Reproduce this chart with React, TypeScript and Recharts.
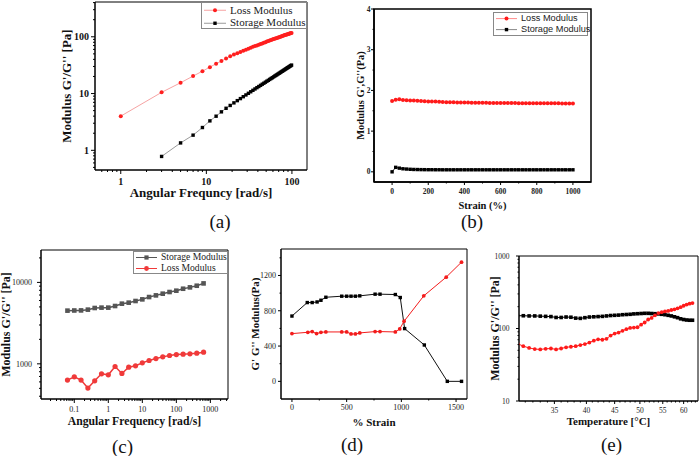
import React from 'react';
import { LineChart, Line, XAxis, YAxis, ReferenceArea } from 'recharts';

// ---- (a) frequency sweep ----
const freqA = [1, 3, 5, 7, 9, 11, 13, 15, 17, 19, 21, 23, 25, 27, 29, 31, 33, 35, 37, 39, 41, 43, 45, 47, 49, 51, 53, 55, 57, 59, 61, 63, 65, 67, 69, 71, 73, 75, 77, 79, 81, 83, 85, 87, 89, 91, 93, 95, 97, 99];
const lossA = [4.0, 10.5, 15.5, 20.3, 24.8, 29.2, 33.5, 37.3, 41.5, 45.5, 48.5, 51.5, 54, 56.5, 59, 61.5, 64, 66.5, 68.5, 70.5, 72.5, 74.5, 76.5, 78.5, 80.5, 82.5, 84, 86, 87.5, 89.5, 91, 92.5, 94, 95.5, 97, 98.5, 100, 101.5, 103, 104.5, 106, 107, 108.5, 110, 111, 112.5, 113.5, 115, 116, 117];
const storageA = [null, 0.78, 1.35, 1.85, 2.52, 3.3, 3.99, 4.76, 5.5, 6.17, 6.85, 7.5, 8.15, 8.8, 9.45, 10.1, 10.75, 11.4, 12.05, 12.7, 13.3, 13.95, 14.6, 15.2, 15.85, 16.5, 17.1, 17.75, 18.4, 19, 19.65, 20.3, 20.9, 21.55, 22.2, 22.8, 23.45, 24.1, 24.7, 25.35, 26, 26.6, 27.25, 27.9, 28.5, 29.15, 29.8, 30.4, 31.05, 31.7];
const xMajorA = [1, 10, 100];
const xMinorA = [0.6, 0.7, 0.8, 0.9, 2, 3, 4, 5, 6, 7, 8, 9, 20, 30, 40, 50, 60, 70, 80, 90];
const yMajorA = [1, 10, 100];
const yMinorA = [0.5, 0.6, 0.7, 0.8, 0.9, 2, 3, 4, 5, 6, 7, 8, 9, 20, 30, 40, 50, 60, 70, 80, 90, 200, 300, 400];

// ---- (b) strain sweep ----
const strainB = [0, 20, 40, 60, 80, 100, 120, 140, 160, 180, 200, 220, 240, 260, 280, 300, 320, 340, 360, 380, 400, 420, 440, 460, 480, 500, 520, 540, 560, 580, 600, 620, 640, 660, 680, 700, 720, 740, 760, 780, 800, 820, 840, 860, 880, 900, 920, 940, 960, 980, 1000];
const lossB = [1.74, 1.77, 1.78, 1.765, 1.76, 1.755, 1.75, 1.745, 1.74, 1.735, 1.73, 1.728, 1.725, 1.72, 1.715, 1.712, 1.71, 1.708, 1.705, 1.703, 1.7, 1.7, 1.698, 1.697, 1.696, 1.695, 1.694, 1.693, 1.692, 1.691, 1.69, 1.69, 1.689, 1.688, 1.688, 1.687, 1.686, 1.686, 1.685, 1.685, 1.684, 1.684, 1.683, 1.683, 1.682, 1.682, 1.682, 1.681, 1.681, 1.68, 1.68];
const storageB = [0, 0.11, 0.09, 0.075, 0.068, 0.062, 0.058, 0.056, 0.054, 0.053, 0.052, 0.052, 0.051, 0.051, 0.05, 0.05, 0.05, 0.05, 0.05, 0.05, 0.05, 0.05, 0.05, 0.05, 0.05, 0.05, 0.05, 0.05, 0.05, 0.05, 0.05, 0.05, 0.05, 0.05, 0.05, 0.05, 0.05, 0.05, 0.05, 0.05, 0.05, 0.05, 0.05, 0.05, 0.05, 0.05, 0.05, 0.05, 0.05, 0.05, 0.05];
const xMajorB = [0, 200, 400, 600, 800, 1000];
const xMinorB = [100, 300, 500, 700, 900];
const yMajorB = [0, 1, 2, 3, 4];
const yMinorB = [0.5, 1.5, 2.5, 3.5];

// ---- (c) frequency sweep ----
const freqC = [0.063, 0.1, 0.158, 0.251, 0.398, 0.631, 1, 1.58, 2.51, 3.98, 6.31, 10, 15.8, 25.1, 39.8, 63.1, 100, 158, 251, 398, 631];
const storageC = [4500, 4520, 4530, 4630, 4850, 4900, 4900, 5130, 5480, 5640, 5910, 6190, 6610, 6930, 7270, 7620, 7910, 8360, 8690, 9100, 9720];
const lossC = [631, 693, 631, 504, 619, 755, 733, 927, 762, 910, 946, 1028, 1099, 1162, 1218, 1265, 1301, 1314, 1326, 1351, 1390];
const xMajorC = [0.1, 1, 10, 100, 1000];
const xMinorC = [0.02, 0.03, 0.04, 0.05, 0.06, 0.07, 0.08, 0.09, 0.2, 0.3, 0.4, 0.5, 0.6, 0.7, 0.8, 0.9, 2, 3, 4, 5, 6, 7, 8, 9, 20, 30, 40, 50, 60, 70, 80, 90, 200, 300, 400, 500, 600, 700, 800, 900, 2000, 3000];
const yMajorC = [1000, 10000];
const yMinorC = [400, 500, 600, 700, 800, 900, 2000, 3000, 4000, 5000, 6000, 7000, 8000, 9000, 20000];

// ---- (d) strain sweep ----
const strainDStorage = [0, 140, 185, 230, 265, 310, 455, 500, 540, 580, 620, 760, 805, 945, 990, 1030, 1210, 1420, 1550];
const storageD = [740, 893, 893, 900, 919, 953, 965, 965, 965, 965, 969, 988, 988, 984, 950, 598, 412, 0, 0];
const strainDLoss = [0, 145, 185, 225, 265, 310, 455, 500, 540, 580, 620, 760, 805, 945, 985, 1025, 1205, 1410, 1550];
const lossD = [541, 556, 564, 541, 556, 560, 560, 560, 537, 537, 549, 564, 564, 560, 594, 681, 969, 1181, 1351];
const xMajorD = [0, 500, 1000, 1500];
const xMinorD = [250, 750, 1250];
const yMajorD = [0, 400, 800, 1200];
const yMinorD = [200, 600, 1000, 1400];

// ---- (e) temperature sweep ----
const tempE = [30, 30.75, 31.5, 32.25, 33, 33.75, 34.5, 35.25, 36, 36.75, 37.5, 38.25, 39, 39.75, 40.5, 41.25, 42, 42.75, 43.5, 44.25, 45, 45.75, 46.5, 47.25, 48, 48.75, 49.5, 50.25, 51, 51.75, 52.5, 53.25, 54, 54.75, 55.5, 56.25, 57, 57.75, 58.5, 59.25, 60, 60.75, 61.5, 62.25];
const lossE = [62, 57, 54, 52, 51.5, 52.5, 53, 51.5, 53, 55, 56, 57, 59, 61, 64, 68, 71, 70, 72, 80, 85, 88, 93, 98, 102, 103, 104, 113, 121, 133, 140, 152, 163, 168, 172, 175, 180, 184, 190, 197, 206, 214, 220, 224];
const storageE = [150, 150, 149, 149, 148, 147, 146, 142, 142, 144, 143, 139, 138, 141, 144, 145, 146, 147, 149, 151, 152, 153, 155, 156, 157, 159, 160, 161, 162, 162, 161, 160, 159, 157, 155, 152, 149, 145, 141, 136, 133, 131, 130, 130];
const xMajorE = [35, 40, 45, 50, 55, 60];
const xMinorE = [31, 32, 33, 34, 36, 37, 38, 39, 41, 42, 43, 44, 46, 47, 48, 49, 51, 52, 53, 54, 56, 57, 58, 59, 61, 62, 63];
const yMajorE = [10, 100, 1000];
const yMinorE = [20, 30, 40, 50, 60, 70, 80, 90, 200, 300, 400, 500, 600, 700, 800, 900];

const SERIF = '"Liberation Serif", "Times New Roman", serif';
const SANS = '"Liberation Sans", Arial, sans-serif';

const dataA = freqA.map((f, i) => ({ f, loss: lossA[i], storage: storageA[i] }));
const dataB = strainB.map((s, i) => ({ s, loss: lossB[i], storage: storageB[i] }));
const dataC = freqC.map((f, i) => ({ f, loss: lossC[i], storage: storageC[i] }));
const dataDStorage = strainDStorage.map((s, i) => ({ s, v: storageD[i] }));
const dataDLoss = strainDLoss.map((s, i) => ({ s, v: lossD[i] }));
const dataE = tempE.map((t, i) => ({ t, loss: lossE[i], storage: storageE[i] }));

const circleDot = (fill: string, r: number) => (p: any) =>
  p.cx == null || p.cy == null ? <g key={p.index} /> : <circle key={p.index} cx={p.cx} cy={p.cy} r={r} fill={fill} />;
const squareDot = (fill: string, s: number) => (p: any) =>
  p.cx == null || p.cy == null ? (
    <g key={p.index} />
  ) : (
    <rect key={p.index} x={p.cx - s / 2} y={p.cy - s / 2} width={s} height={s} fill={fill} />
  );

const fmtNum = (v: number) => String(v);

const bottomTick = (majors: number[], font: React.CSSProperties, len: number, gap: number) => (p: any) => {
  const v = p.payload.value;
  const major = majors.includes(v);
  const l = major ? len : len / 2;
  return (
    <g>
      <line x1={p.x} x2={p.x} y1={p.y} y2={p.y + l} stroke="#000" />
      {major && (
        <text x={p.x} y={p.y + gap} dy="0.35em" textAnchor="middle" style={font}>
          {fmtNum(v)}
        </text>
      )}
    </g>
  );
};

const leftTick = (majors: number[], font: React.CSSProperties, len: number, gap: number) => (p: any) => {
  const v = p.payload.value;
  const major = majors.includes(v);
  const l = major ? len : len / 2;
  return (
    <g>
      <line x1={p.x} x2={p.x - l} y1={p.y} y2={p.y} stroke="#000" />
      {major && (
        <text x={p.x - gap} y={p.y} dy="0.35em" textAnchor="end" style={font}>
          {fmtNum(v)}
        </text>
      )}
    </g>
  );
};

type LegendItem = { label: string; color: string; line: string; shape: 'circle' | 'square'; size: number };

const LegendBox = ({ items, box, font, sample, rowH }: { items: LegendItem[]; box: React.CSSProperties; font: React.CSSProperties; sample: number; rowH: number }) => (
  <div style={{ position: 'absolute', border: '1px solid #888', background: '#fff', boxSizing: 'border-box', ...box }}>
    {items.map((it) => (
      <div key={it.label} style={{ display: 'flex', alignItems: 'center', height: rowH }}>
        <svg width={sample + 6} height={rowH} style={{ flex: 'none' }}>
          <line x1={2} x2={sample + 2} y1={rowH / 2} y2={rowH / 2} stroke={it.line} strokeWidth={1} />
          {it.shape === 'circle' ? (
            <circle cx={sample / 2 + 2} cy={rowH / 2} r={it.size / 2} fill={it.color} />
          ) : (
            <rect x={sample / 2 + 2 - it.size / 2} y={rowH / 2 - it.size / 2} width={it.size} height={it.size} fill={it.color} />
          )}
        </svg>
        <span style={{ whiteSpace: 'nowrap', lineHeight: 1, ...font }}>{it.label}</span>
      </div>
    ))}
  </div>
);

const captionStyle = (left: number, top: number): React.CSSProperties => ({
  position: 'absolute',
  left: left - 20,
  top: top - 11,
  width: 40,
  textAlign: 'center',
  fontFamily: SERIF,
  fontSize: 19,
  lineHeight: '22px',
  color: '#111',
});

const axisLabel = (size: number): React.CSSProperties => ({ fontFamily: SERIF, fontWeight: 700, fontSize: size, fill: '#111' });

export default function App() {
  const tickA = { fontFamily: SERIF, fontWeight: 700, fontSize: 10, fill: '#111' };
  const tickB = { fontFamily: SERIF, fontWeight: 700, fontSize: 7.5, fill: '#222' };
  const tickC = { fontFamily: SERIF, fontSize: 8, fill: '#222' };
  const tickE = { fontFamily: SERIF, fontSize: 7.5, fill: '#222' };

  return (
    <div style={{ position: 'absolute', left: 0, top: 0, width: 700, height: 456, background: '#fff', overflow: 'hidden' }}>
      {/* (a) */}
      <div style={{ position: 'absolute', left: 0, top: 0 }}>
        <LineChart width={330} height={210} data={dataA} margin={{ top: 2, right: 23, bottom: 0, left: 0 }}>
          <XAxis
            dataKey="f"
            type="number"
            scale="log"
            domain={[0.5, 150]}
            allowDataOverflow
            ticks={[...xMajorA, ...xMinorA]}
            interval={0}
            tickSize={0}
            tickMargin={0}
            tickLine={false}
            height={40}
            axisLine={{ stroke: '#000' }}
            tick={bottomTick(xMajorA, tickA, 4, 11)}
            label={{ value: 'Angular Frequncy [rad/s]', position: 'insideBottom', offset: 13, style: axisLabel(13) }}
          />
          <YAxis
            type="number"
            scale="log"
            domain={[0.45, 410]}
            allowDataOverflow
            ticks={[...yMajorA, ...yMinorA]}
            interval={0}
            tickSize={0}
            tickMargin={0}
            tickLine={false}
            width={95}
            axisLine={{ stroke: '#000' }}
            tick={leftTick(yMajorA, tickA, 4, 6)}
            label={{ value: "Modulus G'/G'' [Pa]", angle: -90, position: 'insideLeft', offset: 66, style: { ...axisLabel(13), textAnchor: 'middle' } }}
          />
          <ReferenceArea x1={0.5} x2={150} y1={0.45} y2={410} fill="none" stroke="#000" strokeWidth={1} />
          <Line dataKey="loss" type="linear" stroke="#f6a3a3" strokeWidth={1} dot={circleDot('#ff1f1f', 2)} isAnimationActive={false} />
          <Line dataKey="storage" type="linear" stroke="#9a9a9a" strokeWidth={1} dot={squareDot('#000', 3.4)} isAnimationActive={false} />
        </LineChart>
        <LegendBox
          box={{ left: 201, top: 2, width: 106, height: 27, paddingTop: 1 }}
          rowH={12.5}
          sample={22}
          font={{ fontFamily: SERIF, fontSize: 11, color: '#222' }}
          items={[
            { label: 'Loss Modulus', color: '#ff1f1f', line: '#f6a3a3', shape: 'circle', size: 4 },
            { label: 'Storage Modulus', color: '#000', line: '#9a9a9a', shape: 'square', size: 3.4 },
          ]}
        />
      </div>
      <div style={captionStyle(220, 222)}>(a)</div>

      {/* (b) */}
      <div style={{ position: 'absolute', left: 340, top: 0 }}>
        <LineChart width={270} height={215} data={dataB} margin={{ top: 9, right: 19, bottom: 0, left: 0 }}>
          <XAxis
            dataKey="s"
            type="number"
            domain={[-100, 1100]}
            allowDataOverflow
            ticks={[...xMajorB, ...xMinorB]}
            interval={0}
            tickSize={0}
            tickMargin={0}
            tickLine={false}
            height={33}
            axisLine={{ stroke: '#000', strokeWidth: 1.5 }}
            tick={bottomTick(xMajorB, tickB, 3, 9)}
            label={{ value: 'Strain (%)', position: 'insideBottom', offset: 6, style: axisLabel(10.5) }}
          />
          <YAxis
            type="number"
            domain={[-0.25, 4]}
            allowDataOverflow
            ticks={[...yMajorB, ...yMinorB]}
            interval={0}
            tickSize={0}
            tickMargin={0}
            tickLine={false}
            width={34}
            axisLine={{ stroke: '#000', strokeWidth: 1.5 }}
            tick={leftTick(yMajorB, tickB, 3, 3.5)}
            label={{ value: "Modulus G',G''(Pa)", angle: -90, position: 'insideLeft', offset: 20, style: { ...axisLabel(10.5), textAnchor: 'middle' } }}
          />
          <ReferenceArea x1={-100} x2={1100} y1={-0.25} y2={4} fill="none" stroke="#000" strokeWidth={1.5} />
          <Line dataKey="loss" type="linear" stroke="#ff4a4a" strokeWidth={1} dot={circleDot('#ff1a1a', 2)} isAnimationActive={false} />
          <Line dataKey="storage" type="linear" stroke="#222" strokeWidth={1} dot={squareDot('#000', 3.4)} isAnimationActive={false} />
        </LineChart>
        <LegendBox
          box={{ left: 153, top: 12, width: 95, height: 24 }}
          rowH={11.2}
          sample={21}
          font={{ fontFamily: SANS, fontSize: 9.2, color: '#222' }}
          items={[
            { label: 'Loss Modulus', color: '#ff1a1a', line: '#ff8a8a', shape: 'circle', size: 4 },
            { label: 'Storage Modulus', color: '#000', line: '#888', shape: 'square', size: 3.4 },
          ]}
        />
      </div>
      <div style={captionStyle(472, 222)}>(b)</div>

      {/* (c) */}
      <div style={{ position: 'absolute', left: 0, top: 240 }}>
        <LineChart width={240} height={190} data={dataC} margin={{ top: 10, right: 12, bottom: 0, left: 0 }}>
          <XAxis
            dataKey="f"
            type="number"
            scale="log"
            domain={[0.0105, 3300]}
            allowDataOverflow
            ticks={[...xMajorC, ...xMinorC]}
            interval={0}
            tickSize={0}
            tickMargin={0}
            tickLine={false}
            height={31}
            axisLine={{ stroke: '#000' }}
            tick={bottomTick(xMajorC, tickC, 4, 10)}
            label={{ value: 'Angular Frequency [rad/s]', position: 'insideBottom', offset: 5, style: axisLabel(11.7) }}
          />
          <YAxis
            type="number"
            scale="log"
            domain={[370, 25000]}
            allowDataOverflow
            ticks={[...yMajorC, ...yMinorC]}
            interval={0}
            tickSize={0}
            tickMargin={0}
            tickLine={false}
            width={41}
            axisLine={{ stroke: '#000' }}
            tick={leftTick(yMajorC, tickC, 4, 9)}
            label={{ value: "Modulus G'/G'' [Pa]", angle: -90, position: 'insideLeft', offset: 6, style: { ...axisLabel(12), textAnchor: 'middle' } }}
          />
          <ReferenceArea x1={0.0105} x2={3300} y1={370} y2={25000} fill="none" stroke="#000" strokeWidth={1} />
          <Line dataKey="storage" type="linear" stroke="#555" strokeWidth={1.5} dot={squareDot('#555', 4.6)} isAnimationActive={false} />
          <Line dataKey="loss" type="linear" stroke="#f03a3a" strokeWidth={1.5} dot={circleDot('#f03a3a', 2.6)} isAnimationActive={false} />
        </LineChart>
        <LegendBox
          box={{ left: 133, top: 10.5, width: 95, height: 23 }}
          rowH={11}
          sample={21}
          font={{ fontFamily: SERIF, fontSize: 9.6, color: '#222' }}
          items={[
            { label: 'Storage Modulus', color: '#555', line: '#555', shape: 'square', size: 4.2 },
            { label: 'Loss Modulus', color: '#f03a3a', line: '#f03a3a', shape: 'circle', size: 4.8 },
          ]}
        />
      </div>
      <div style={captionStyle(122.5, 447)}>(c)</div>

      {/* (d) */}
      <div style={{ position: 'absolute', left: 230, top: 240 }}>
        <LineChart width={245} height={190} margin={{ top: 9, right: 8, bottom: 0, left: 0 }}>
          <XAxis
            dataKey="s"
            type="number"
            domain={[-100, 1600]}
            allowDataOverflow
            ticks={[...xMajorD, ...xMinorD]}
            interval={0}
            tickSize={0}
            tickMargin={0}
            tickLine={false}
            height={31}
            axisLine={{ stroke: '#000' }}
            tick={bottomTick(xMajorD, tickC, 3, 8)}
            label={{ value: '% Strain', position: 'insideBottom', offset: 4.5, style: axisLabel(11) }}
          />
          <YAxis
            type="number"
            domain={[-200, 1500]}
            allowDataOverflow
            ticks={[...yMajorD, ...yMinorD]}
            interval={0}
            tickSize={0}
            tickMargin={0}
            tickLine={false}
            width={51}
            axisLine={{ stroke: '#000' }}
            tick={leftTick(yMajorD, tickC, 3, 5)}
            label={{ value: "G' G'' Modulus(Pa)", angle: -90, position: 'insideLeft', offset: 25, style: { ...axisLabel(11), textAnchor: 'middle' } }}
          />
          <ReferenceArea x1={-100} x2={1600} y1={-200} y2={1500} fill="none" stroke="#000" strokeWidth={1} />
          <Line data={dataDStorage} dataKey="v" type="linear" stroke="#111" strokeWidth={1} dot={squareDot('#000', 3.4)} isAnimationActive={false} />
          <Line data={dataDLoss} dataKey="v" type="linear" stroke="#f31c1c" strokeWidth={1} dot={circleDot('#f31c1c', 1.9)} isAnimationActive={false} />
        </LineChart>
      </div>
      <div style={captionStyle(352, 445)}>(d)</div>

      {/* (e) */}
      <div style={{ position: 'absolute', left: 460, top: 240 }}>
        <LineChart width={240} height={190} data={dataE} margin={{ top: 16, right: 2, bottom: 0, left: 0 }}>
          <XAxis
            dataKey="t"
            type="number"
            scale="log"
            domain={[30.2, 63.7]}
            allowDataOverflow
            ticks={[...xMajorE, ...xMinorE]}
            interval={0}
            tickSize={0}
            tickMargin={0}
            tickLine={false}
            height={29}
            axisLine={{ stroke: '#000' }}
            tick={bottomTick(xMajorE, tickE, 3, 9.5)}
            label={{ value: 'Temperature [°C]', position: 'insideBottom', offset: 5.4, style: axisLabel(11) }}
          />
          <YAxis
            type="number"
            scale="log"
            domain={[10, 1000]}
            allowDataOverflow
            ticks={[...yMajorE, ...yMinorE]}
            interval={0}
            tickSize={0}
            tickMargin={0}
            tickLine={false}
            width={59}
            axisLine={{ stroke: '#000' }}
            tick={leftTick(yMajorE, tickE, 3, 9.5)}
            label={{ value: "Modulus G'/G'' [Pa]", angle: -90, position: 'insideLeft', offset: 35, style: { ...axisLabel(12), textAnchor: 'middle' } }}
          />
          <ReferenceArea x1={30.2} x2={63.7} y1={10} y2={1000} fill="none" stroke="#000" strokeWidth={1} />
          <Line dataKey="storage" type="linear" stroke="#000" strokeWidth={1} dot={squareDot('#000', 3.6)} isAnimationActive={false} />
          <Line dataKey="loss" type="linear" stroke="#ff1a1a" strokeWidth={1} dot={circleDot('#ff1a1a', 1.9)} isAnimationActive={false} />
        </LineChart>
      </div>
      <div style={captionStyle(611.5, 445)}>(e)</div>
    </div>
  );
}
